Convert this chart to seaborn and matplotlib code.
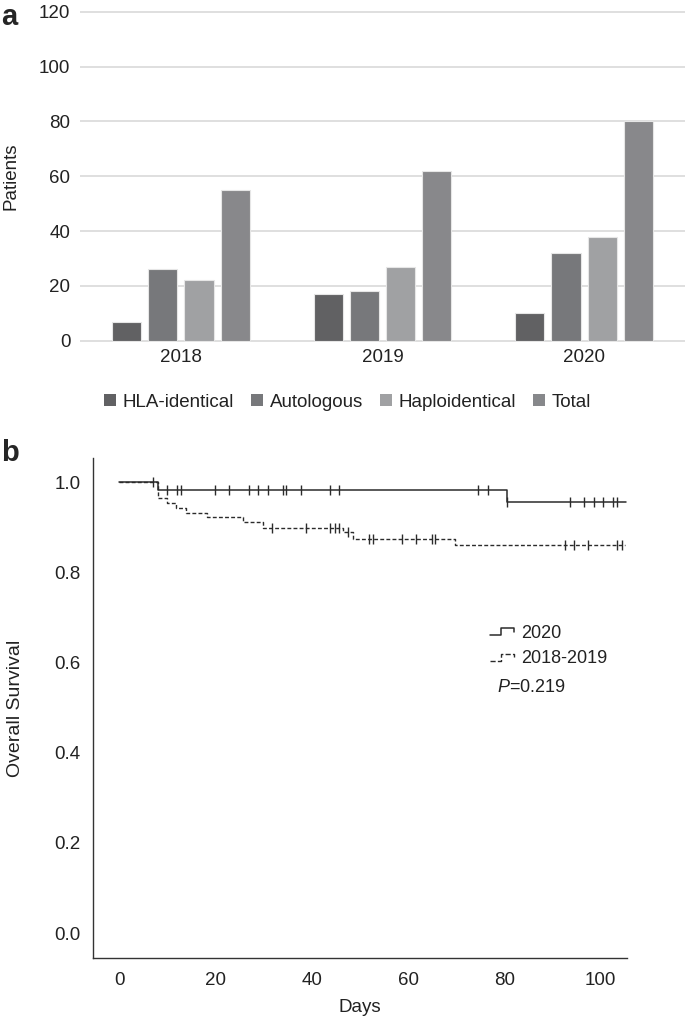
import numpy as np
import pandas as pd
import matplotlib
matplotlib.use("Agg")
import matplotlib.pyplot as plt
import seaborn as sns
from matplotlib.legend_handler import HandlerBase
from matplotlib.lines import Line2D
from matplotlib.patches import Patch

# ---- data: panel a (patients per year by transplant type)
years = ["2018", "2019", "2020"]
types = ["HLA-identical", "Autologous", "Haploidentical", "Total"]
hla_identical = [7, 17, 10]
autologous = [26, 18, 32]
haploidentical = [22, 27, 38]
total = [55, 62, 80]
bar_colors = ["#616163", "#77787b", "#a0a1a3", "#87888b"]

# ---- data: panel b (Kaplan-Meier steps, days / survival)
km2020_t = [0, 8, 80.5, 105.2]
km2020_s = [1.0, 0.983, 0.956, 0.956]
km2020_cens = [7, 10.0, 11.9, 12.8, 19.9, 22.8, 26.9, 28.8, 30.9, 33.9, 34.7,
               37.8, 43.8, 45.6, 74.6, 76.5, 80.6, 93.5, 96.5, 98.5, 100.5,
               102.5, 103.3]
km1819_t = [0, 8, 9.9, 11.8, 13.9, 18.2, 25.7, 29.8, 46.4, 48.6, 69.7, 105.0]
km1819_s = [1.0, 0.966, 0.955, 0.944, 0.933, 0.922, 0.911, 0.899, 0.889,
            0.874, 0.861, 0.861]
km1819_cens = [31.8, 38.8, 43.8, 44.9, 45.6, 47.5, 51.8, 52.6, 58.7, 61.6,
               64.9, 65.6, 92.5, 94.4, 97.4, 103.3, 104.3]
p_value = "0.219"

sns.set_style("white")
plt.rcParams["font.family"] = ["Liberation Sans", "DejaVu Sans"]
plt.rcParams["mathtext.fontset"] = "custom"
plt.rcParams["mathtext.it"] = "Liberation Sans:italic"
plt.rcParams["mathtext.rm"] = "Liberation Sans"

FS = 13.5
TXT = "#222222"

fig = plt.figure(figsize=(6.85, 10.23), dpi=100)

# ================= panel a =================
df = pd.DataFrame({
    "year": np.repeat(years, len(types)),
    "type": types * len(years),
    "patients": np.ravel(np.column_stack([hla_identical, autologous,
                                          haploidentical, total])),
})
ax1 = fig.add_axes([0.1168, 0.6656, 0.8832, 0.3243])
sns.barplot(data=df, x="year", y="patients", hue="type", hue_order=types,
            palette=bar_colors, width=0.72, gap=0.2, edgecolor="#e6e6e6",
            linewidth=0.8, ax=ax1, legend=False, zorder=3)
ax1.set_ylim(-0.5, 120.5)
ax1.set_xlim(-0.5, 2.5)
ax1.set_yticks(range(0, 121, 20))
ax1.yaxis.grid(True, color="#dcdcdc", lw=1.3, zorder=0)
ax1.set_axisbelow(True)
for s in ax1.spines.values():
    s.set_visible(False)
ax1.tick_params(axis="both", length=0, labelsize=FS, colors=TXT)
ax1.tick_params(axis="x", pad=5)
ax1.tick_params(axis="y", pad=7)
ax1.set_xlabel("")
ax1.set_ylabel("Patients", fontsize=FS, color=TXT, labelpad=14)

handles = [Patch(facecolor=c, edgecolor="none") for c in bar_colors]
fig.legend(handles, types, loc="center", bbox_to_anchor=(0.507, 0.607),
           ncol=4, frameon=False, fontsize=FS, handlelength=0.65,
           handleheight=0.65, handletextpad=0.35, columnspacing=0.9,
           labelcolor=TXT)

# ================= panel b =================
ax2 = fig.add_axes([0.1358, 0.0635, 0.7796, 0.4888])
line_col = "#2b2b2b"
sns.lineplot(x=km2020_t, y=km2020_s, drawstyle="steps-post", estimator=None,
             sort=False, color=line_col, lw=1.1, ax=ax2)
sns.lineplot(x=km1819_t, y=km1819_s, drawstyle="steps-post", estimator=None,
             sort=False, color=line_col, lw=1.0, linestyle=(0, (2.8, 1.6)),
             ax=ax2)


def step_lookup(times, surv, at):
    idx = np.searchsorted(times, at, side="right") - 1
    return np.asarray(surv)[idx]


ax2.plot(km2020_cens, step_lookup(km2020_t, km2020_s, km2020_cens),
         ls="none", marker="|", ms=6.5, mew=1.0, color=line_col)
ax2.plot(km1819_cens, step_lookup(km1819_t, km1819_s, km1819_cens),
         ls="none", marker="|", ms=6.5, mew=1.0, color=line_col)

ax2.set_xlim(-5.45, 105.45)
ax2.set_ylim(-0.0555, 1.054)
ax2.set_xticks(range(0, 101, 20))
ax2.set_yticks(np.arange(0, 1.01, 0.2))
ax2.set_yticklabels([f"{v:.1f}" for v in np.arange(0, 1.01, 0.2)])
for s in ["top", "right"]:
    ax2.spines[s].set_visible(False)
for s in ["left", "bottom"]:
    ax2.spines[s].set_color("#333333")
    ax2.spines[s].set_linewidth(1.0)
ax2.tick_params(axis="both", direction="out", length=6, width=1.2,
                colors="#333333", labelsize=FS, labelcolor=TXT, pad=3)
ax2.tick_params(axis="x", pad=4)
ax2.set_xlabel("Days", fontsize=FS, color=TXT, labelpad=7)
ax2.set_ylabel("Overall Survival", fontsize=14, color=TXT, labelpad=22)


class StepHandler(HandlerBase):
    def create_artists(self, legend, orig_handle, xdescent, ydescent,
                       width, height, fontsize, trans):
        xs = np.array([0.0, 0.45, 0.45, 1.0, 1.0]) * width - xdescent
        ys = np.array([0.2, 0.2, 0.75, 0.75, 0.5]) * height - ydescent
        ln = Line2D(xs, ys, color=orig_handle.get_color(),
                    lw=orig_handle.get_linewidth(),
                    linestyle=orig_handle.get_linestyle())
        ln.set_transform(trans)
        return [ln]


leg_h = [Line2D([], [], color=line_col, lw=1.1),
         Line2D([], [], color=line_col, lw=1.0, linestyle=(0, (2.0, 1.2)))]
ax2.legend(leg_h, ["2020", "2018-2019"], loc="center left",
           bbox_to_anchor=(0.713, 0.624), frameon=False, fontsize=13,
           handlelength=1.3, handletextpad=0.4, labelspacing=0.45,
           handler_map={Line2D: StepHandler()}, labelcolor=TXT)
ax2.text(0.757, 0.542, r"$\it{P}$=" + p_value, transform=ax2.transAxes,
         fontsize=13, color=TXT, va="center", ha="left")

fig.text(0.002, 0.997, "a", fontsize=21, fontweight="bold", va="top")
fig.text(0.002, 0.571, "b", fontsize=21, fontweight="bold", va="top")

fig.savefig("out.png", dpi=100)
